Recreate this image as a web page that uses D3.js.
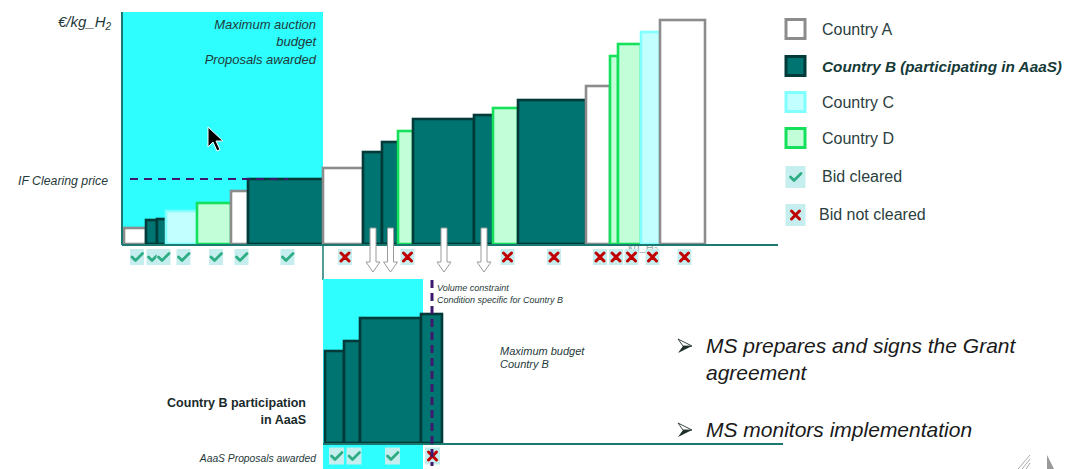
<!DOCTYPE html>
<html><head><meta charset="utf-8">
<script src="https://cdn.jsdelivr.net/npm/d3@7"></script>
<style>
html,body{margin:0;padding:0;background:#fff;}
svg{display:block;font-family:"Liberation Sans",Arial,sans-serif;}
</style></head>
<body>
<svg id="chart" width="1071" height="469"></svg>
<script>
// ---------- data ----------
const bidCountry = ["A","B","B","C","D","A","B","A","B","B","D","B","B","D","B","A","D","D","C","A"];
const bidVolume  = [22,11,9,31,34,17,75,40,19,16,15,61,19,25,68,24,8,23,19,45];
const bidPrice   = [1.6,2.4,2.5,3.3,4.1,5.3,6.5,7.6,9.2,10.2,11.3,12.5,12.9,13.6,14.4,15.8,18.8,20.0,21.2,22.4];
const bidStatus  = ["cleared","cleared","cleared","cleared","cleared","cleared","cleared",
                    "not","aaas","aaas","not","aaas","aaas","not","not","not","not","not","not","not"];
const auctionBudgetVolume = 199;
const auctionPriceCap = 23.2;
const clearingPrice = 6.5;
const aaasStatus = ["cleared","cleared","cleared","not"];
const aaasBudgetVolume = 98;
const aaasVolumeConstraint = 107;
const aaasPriceCap = 16.4;
const legendLabels = ["Country A","Country B (participating in AaaS)","Country C","Country D","Bid cleared","Bid not cleared"];
const legendKeys = ["A","B","C","D","cleared","not"];
const bullets = [["MS prepares and signs the Grant","agreement"],["MS monitors implementation"]];

const style = {
  A:{fill:"#ffffff",stroke:"#8c8c8c"},
  B:{fill:"#007470",stroke:"#003b39"},
  C:{fill:"#c2ffff",stroke:"#80ffff"},
  D:{fill:"#c2ffd9",stroke:"#14e05c"}
};
const cyan = "#2efefe", txt = "#1f3a3a", purple = "#3d1a6e", teal = "#1a7a72";

const svg = d3.select("#chart");

// ---------- scales ----------
let cum = 0;
const bids = bidVolume.map((v,i)=>{const b={i,x0:cum,x1:cum+v,price:bidPrice[i],country:bidCountry[i],status:bidStatus[i]};cum+=v;return b;});
const total = cum;
const x = d3.scaleLinear().domain([0,total]).range([124,705]);
const y = d3.scaleLinear().domain([0,auctionPriceCap]).range([244,12]);

// budget area
svg.append("rect").attr("x",122).attr("y",y(auctionPriceCap))
  .attr("width",x(auctionBudgetVolume)-122).attr("height",y(0)-y(auctionPriceCap)).attr("fill",cyan);

// faint axis unit
svg.append("text").attr("x",628).attr("y",251).attr("font-size",11).attr("fill","#9aa").text("kg_H₂");

// bars
svg.append("g").selectAll("rect").data(bids).join("rect")
  .attr("x",d=>x(d.x0)).attr("y",d=>y(d.price))
  .attr("width",d=>x(d.x1)-x(d.x0)).attr("height",d=>y(0)-y(d.price))
  .attr("fill",d=>style[d.country].fill).attr("stroke",d=>style[d.country].stroke).attr("stroke-width",2.6);

// axes lines
svg.append("line").attr("x1",122).attr("x2",122).attr("y1",12).attr("y2",245).attr("stroke",teal).attr("stroke-width",2);
svg.append("line").attr("x1",122).attr("x2",778).attr("y1",245).attr("y2",245).attr("stroke",teal).attr("stroke-width",2);
svg.append("line").attr("x1",323).attr("x2",323).attr("y1",245).attr("y2",280).attr("stroke",teal).attr("stroke-width",1.5);

// clearing price
svg.append("line").attr("x1",130).attr("x2",288).attr("y1",y(clearingPrice)).attr("y2",y(clearingPrice))
  .attr("stroke",purple).attr("stroke-width",2).attr("stroke-dasharray","8,6");

// badges
function badge(g,cx,cy,kind,w,h){
  g.append("rect").attr("x",cx-w/2).attr("y",cy-h/2).attr("width",w).attr("height",h).attr("fill","#c6eeee");
  if(kind==="cleared"){
    g.append("path").attr("d",`M${cx-5},${cy} L${cx-1.5},${cy+3.5} L${cx+5.5},${cy-3.5}`)
      .attr("fill","none").attr("stroke","#2fae86").attr("stroke-width",2.8).attr("stroke-linecap","round").attr("stroke-linejoin","round");
  } else {
    g.append("path").attr("d",`M${cx-4},${cy-4} L${cx+4},${cy+4} M${cx+4},${cy-4} L${cx-4},${cy+4}`)
      .attr("fill","none").attr("stroke","#c00000").attr("stroke-width",3).attr("stroke-linecap","round");
  }
}
const gb = svg.append("g");
bids.forEach(d=>{
  const cx = (x(d.x0)+x(d.x1))/2+2;
  if(d.status==="aaas"){
    const ax=cx-1.5;
    gb.append("path").attr("d",`M${ax-3},228 L${ax+3},228 L${ax+3},262 L${ax+7},262 L${ax},272 L${ax-7},262 L${ax-3},262 Z`)
      .attr("fill","#fff").attr("stroke","#9a9a9a").attr("stroke-width",1);
  } else badge(gb,cx,257,d.status,14,16);
});

// ---------- lower AaaS panel ----------
const aaasBids = bids.filter(d=>d.status==="aaas");
let c2=0;
const lower = aaasBids.map(d=>{const v=d.x1-d.x0;const o={x0:c2,x1:c2+v,price:d.price};c2+=v;return o;});
const kx = x.copy().domain([0,total]).range([325,325+(705-124)]);
const yl = d3.scaleLinear().domain([0,auctionPriceCap]).range([443,443-232]);
svg.append("rect").attr("x",323).attr("y",yl(aaasPriceCap)).attr("width",kx(aaasBudgetVolume)-323).attr("height",469-yl(aaasPriceCap)).attr("fill",cyan);
svg.append("g").selectAll("rect").data(lower).join("rect")
  .attr("x",d=>kx(d.x0)).attr("y",d=>yl(d.price)).attr("width",d=>kx(d.x1)-kx(d.x0)+(d.x1===c2?2:0)).attr("height",d=>yl(0)-yl(d.price))
  .attr("fill",style.B.fill).attr("stroke",style.B.stroke).attr("stroke-width",2.6);
svg.append("line").attr("x1",323).attr("x2",783).attr("y1",444).attr("y2",444).attr("stroke",teal).attr("stroke-width",2);
lower.forEach((d,i)=>badge(svg,(kx(d.x0)+kx(d.x1))/2+2,456,aaasStatus[i],15,17));
svg.append("line").attr("x1",kx(aaasVolumeConstraint)).attr("x2",kx(aaasVolumeConstraint)).attr("y1",280).attr("y2",466)
  .attr("stroke",purple).attr("stroke-width",3).attr("stroke-dasharray","8,5");

// ---------- texts ----------
function t(xp,yp,s,size,opts={}){
  const e=svg.append("text").attr("x",xp).attr("y",yp).attr("font-size",size).attr("fill",opts.fill||txt)
    .attr("font-style",opts.italic?"italic":null).attr("font-weight",opts.bold?"bold":null)
    .attr("text-anchor",opts.anchor||"start").text(s);
  return e;
}
const yl1 = t(58,27,"€/kg_H",15,{italic:true});
yl1.append("tspan").attr("font-size",10).attr("dy",3).text("2");
t(316,29,"Maximum auction",13,{italic:true,anchor:"end"});
t(316,46,"budget",13,{italic:true,anchor:"end"});
t(316,64,"Proposals awarded",13,{italic:true,anchor:"end"});
t(18,185,"IF Clearing price",12.3,{italic:true});
t(437,291,"Volume constraint",9,{italic:true});
t(437,303,"Condition specific for Country B",9,{italic:true});
t(500,355,"Maximum budget",11,{italic:true});
t(500,368,"Country B",11,{italic:true});
t(306,407,"Country B participation",12.5,{bold:true,anchor:"end",fill:"#1a2a2a"});
t(306,424,"in AaaS",12.5,{bold:true,anchor:"end",fill:"#1a2a2a"});
t(316,462,"AaaS Proposals awarded",10.3,{italic:true,anchor:"end"});

// legend
legendKeys.forEach((k,i)=>{
  const cy=[29,66,102,138,176,214][i];
  if(style[k]){
    svg.append("rect").attr("x",786).attr("y",cy-9.5).attr("width",19).attr("height",19)
      .attr("fill",style[k].fill).attr("stroke",style[k].stroke).attr("stroke-width",3);
  } else badge(svg,795.5,cy+1,k,20,22);
  t(k==="not"?819:822,cy+6,legendLabels[i],k==="B"?15.3:16,{bold:k==="B",italic:k==="B",fill:k==="B"?"#153a38":"#2a4040"});
});

// bullets
bullets.forEach((lines,i)=>{
  const by=[353,437][i];
  const cy=by-7;
  svg.append("path").attr("d",`M678,${cy-7} L692,${cy} L678,${cy+7} L683,${cy} Z`).attr("fill","#1e2e2a");
  svg.append("path").attr("d",`M678,${cy-7} L692,${cy} L683,${cy} Z`).attr("fill","#fff").attr("stroke","#1e2e2a").attr("stroke-width",0.8);
  lines.forEach((s,j)=>t(706,by+j*27,s,21,{italic:true,fill:"#1a1a1a"}));
});

// mouse pointer
svg.append("path").attr("d","M208,127 L208,147 L213,142 L217,151 L220,149.5 L216,141 L223,141 Z")
  .attr("fill","#000").attr("stroke","#fff").attr("stroke-width",1);
// corner marks
svg.append("path").attr("d","M1018,469 L1030,455 M1022,469 L1030,459 M1026,469 L1030,463").attr("stroke","#aaa").attr("stroke-width",1);
svg.append("path").attr("d","M1047,455 L1047,469 L1054,469 Z").attr("fill","#999");
</script>
</body></html>
